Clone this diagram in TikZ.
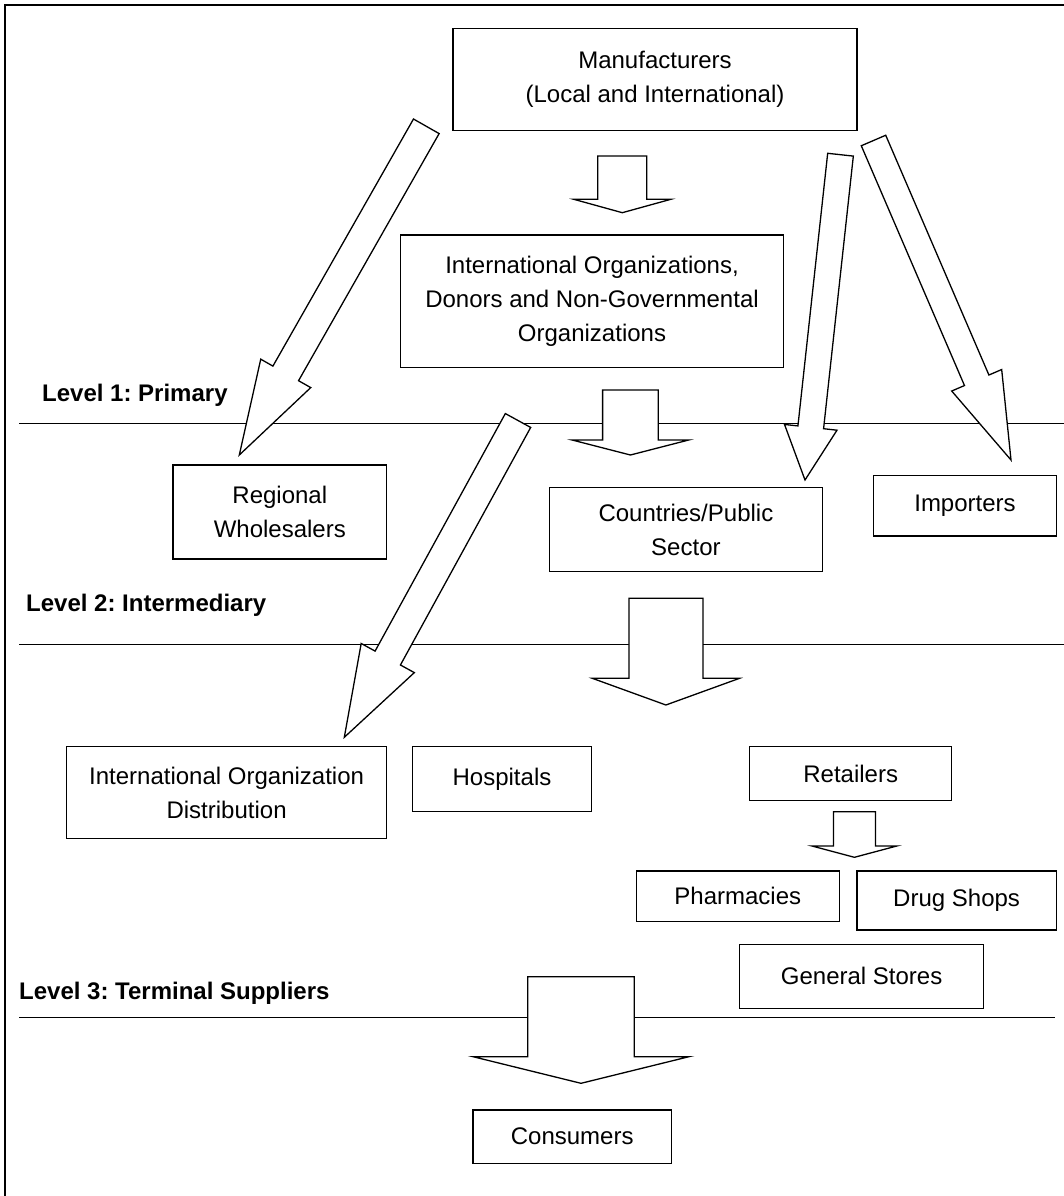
\documentclass[tikz,border=0pt]{standalone}
\usepackage{fontspec}
\setmainfont{Liberation Sans}
\usetikzlibrary{calc}
\frenchspacing
\newcommand{\blockarrow}[5]{%
  \path ($(#2)!#5!(#1)$) coordinate (bah);
  \draw[barrow] ($(#1)!#3!90:(#2)$) -- ($(bah)!#3!90:(#2)$) -- ($(bah)!#4!90:(#2)$) -- (#2)
    -- ($(bah)!#4!-90:(#2)$) -- ($(bah)!#3!-90:(#2)$) -- ($(#1)!#3!-90:(#2)$) -- cycle;
}
\tikzset{
  box/.style={draw, line width=1.3pt, fill=white, inner sep=0pt, align=center,
    font=\fontsize{24}{34}\selectfont\frenchspacing},
  barrow/.style={draw, fill=white, line width=1.3pt, line join=miter},
  levelline/.style={line width=1.3pt},
  leveltext/.style={anchor=base west, inner sep=0pt, font=\fontsize{24}{30}\selectfont\bfseries\frenchspacing},
}
\begin{document}
\begin{tikzpicture}[x=1pt,y=-1pt]
\useasboundingbox (0,0) rectangle (1064,1196);
% frame
\draw[line width=2pt] (5,1196) -- (5,5) -- (1064,5);
% level lines
\draw[levelline] (19,423.3) -- (1064,423.3);
\draw[levelline] (19,644.3) -- (1064,644.3);
\draw[levelline] (19,1017.7) -- (1055,1017.7);
% level labels
\node[leveltext] (lv1) at (42,401) {Level 1: Primary};
\node[leveltext] (lv2) at (26,611) {Level 2: Intermediary};
\node[leveltext] (lv3) at (19,999.5) {Level 3: Terminal Suppliers};
% boxes
\node[box, minimum width=404pt, minimum height=102pt] (manu) at (655,79.5) {Manufacturers\\(Local and International)};
\node[box, minimum width=383pt, minimum height=132.7pt] (io) at (592,301.3) {International Organizations,\\Donors and Non-Governmental\\Organizations};
\node[box, minimum width=213.7pt, minimum height=94pt] (reg) at (279.8,512) {Regional\\Wholesalers};
\node[box, minimum width=272.8pt, minimum height=84pt] (cps) at (685.9,529.7) {Countries/Public\\Sector};
\node[box, minimum width=182.5pt, minimum height=60.3pt] (imp) at (965,505.8) {Importers};
\node[box, minimum width=320pt, minimum height=91.6pt] (iod) at (226.6,792.5) {International Organization\\Distribution};
\node[box, minimum width=179pt, minimum height=65pt] (hosp) at (502,779.2) {Hospitals};
\node[box, minimum width=202pt, minimum height=54pt] (ret) at (850.7,773.7) {Retailers};
\node[box, minimum width=202.8pt, minimum height=50.7pt] (pha) at (737.8,896.3) {Pharmacies};
\node[box, minimum width=199.4pt, minimum height=59pt] (drug) at (956.6,900.5) {Drug Shops};
\node[box, minimum width=244.2pt, minimum height=64pt] (gen) at (861.6,976.3) {General Stores};
\node[box, minimum width=198.7pt, minimum height=53.3pt] (cons) at (572.2,1136.7) {Consumers};
% arrow end points
\coordinate (aAt) at (426.3,126.3); \coordinate (aAh) at (239.3,455);
\coordinate (aBt) at (518,420.5);   \coordinate (aBh) at (344.3,737.3);
\coordinate (aCt) at (840.5,154.7); \coordinate (aCh) at (805,480);
\coordinate (aDt) at (873.5,140.5); \coordinate (aDh) at (1011,460);
\coordinate (a1t) at (622.3,156);   \coordinate (a1h) at (622.3,212.7);
\coordinate (a2t) at (630.4,390);   \coordinate (a2h) at (630.4,455);
\coordinate (a3t) at (665.9,598.3); \coordinate (a3h) at (665.9,705);
\coordinate (a4t) at (854.4,811.7); \coordinate (a4h) at (854.4,857.3);
\coordinate (a5t) at (581,976.7);   \coordinate (a5h) at (581,1083.3);
% block arrows
\blockarrow{aAt}{aAh}{14.75pt}{28.75pt}{93.9pt}
\blockarrow{aBt}{aBh}{14.45pt}{30.3pt}{90.4pt}
\blockarrow{aCt}{aCh}{12.9pt}{26.4pt}{53pt}
\blockarrow{aDt}{aDh}{13.3pt}{27.2pt}{86.8pt}
\blockarrow{a1t}{a1h}{24.5pt}{48.5pt}{13.4pt}
\blockarrow{a2t}{a2h}{27.8pt}{58.3pt}{15pt}
\blockarrow{a3t}{a3h}{37pt}{73.6pt}{26.7pt}
\blockarrow{a4t}{a4h}{21pt}{42.4pt}{11.3pt}
\blockarrow{a5t}{a5h}{53.25pt}{107.9pt}{26.6pt}
\end{tikzpicture}
\end{document}
